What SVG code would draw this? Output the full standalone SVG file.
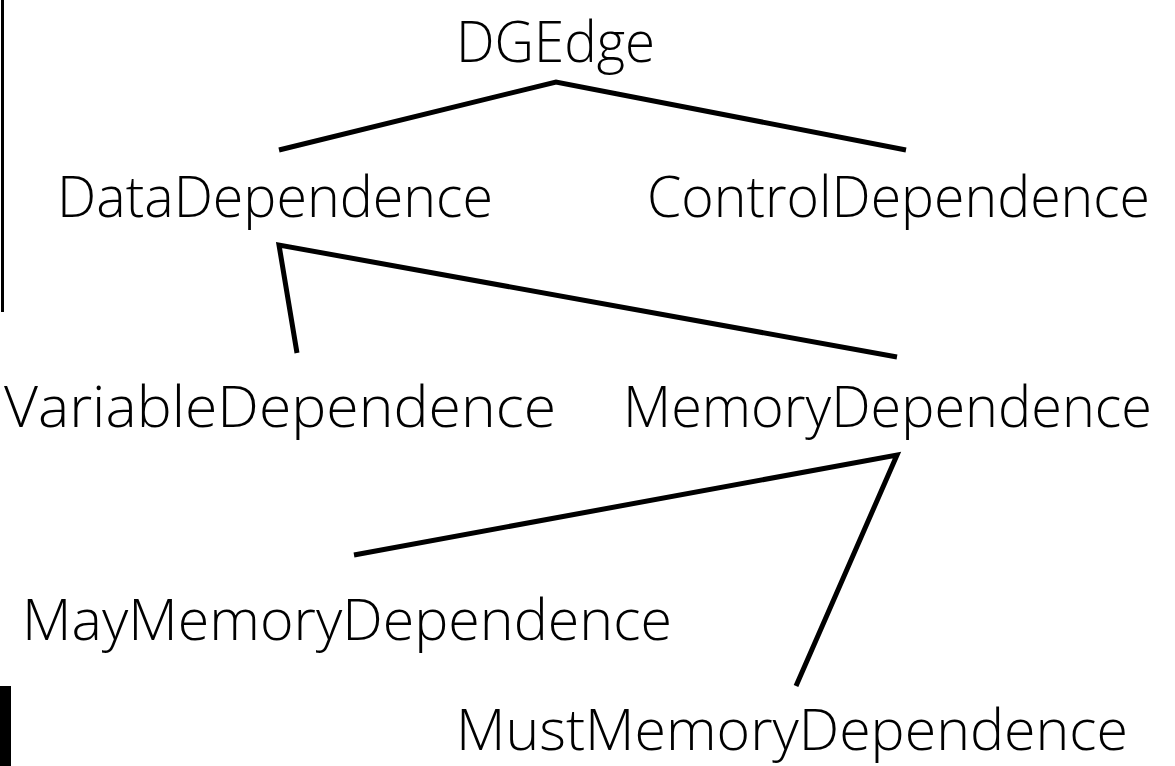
<svg xmlns="http://www.w3.org/2000/svg" width="1175" height="766" viewBox="0 0 1175 766">
<style>
.lbl{font-family:"Open Sans","Noto Sans","Liberation Sans",sans-serif;font-weight:300;font-size:57px;fill:#000}
.edge{stroke:#000;stroke-width:5;fill:none;stroke-linejoin:miter}
</style>
<rect x="0" y="0" width="1175" height="766" fill="#fff"/>
<rect x="1" y="0" width="3" height="312" fill="#000"/>
<rect x="0" y="686" width="11" height="80" fill="#000"/>
<g id="connectors">
<polyline class="edge" points="279,150 556,82 906,150"/>
<polyline class="edge" points="297,353 279,245 897,357"/>
<polyline class="edge" points="354,555 897,455 796,686"/>
</g>
<g id="n-dgedge"><text class="lbl" x="456" y="62" textLength="199" lengthAdjust="spacingAndGlyphs">DGEdge</text></g>
<g id="n-data"><text class="lbl" x="57" y="217" textLength="436" lengthAdjust="spacingAndGlyphs">DataDependence</text></g>
<g id="n-control"><text class="lbl" x="647" y="217" textLength="503" lengthAdjust="spacingAndGlyphs">ControlDependence</text></g>
<g id="n-variable"><text class="lbl" x="4" y="427" textLength="552" lengthAdjust="spacingAndGlyphs">VariableDependence</text></g>
<g id="n-memory"><text class="lbl" x="623" y="427" textLength="529" lengthAdjust="spacingAndGlyphs">MemoryDependence</text></g>
<g id="n-may"><text class="lbl" x="22" y="640" textLength="650" lengthAdjust="spacingAndGlyphs">MayMemoryDependence</text></g>
<g id="n-must"><text class="lbl" x="456" y="750" textLength="672" lengthAdjust="spacingAndGlyphs">MustMemoryDependence</text></g>
</svg>
